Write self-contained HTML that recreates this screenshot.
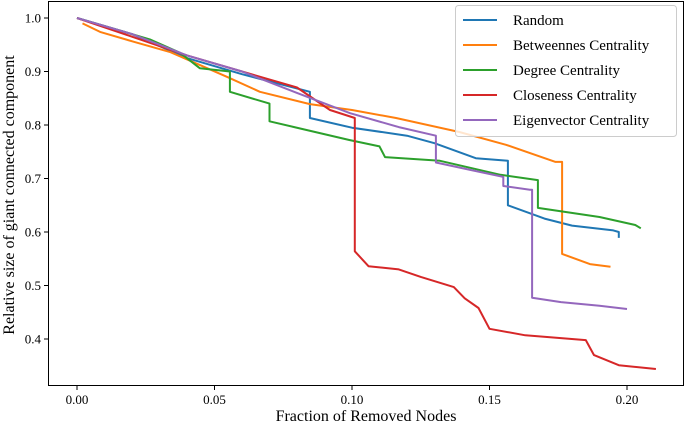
<!DOCTYPE html>
<html><head><meta charset="utf-8"><style>
html,body{margin:0;padding:0;background:#fff}
svg{display:block;font-family:"Liberation Serif",serif}
</style></head><body>
<svg id="c" width="685" height="428" xmlns="http://www.w3.org/2000/svg">
<rect x="48.5" y="1.5" width="635" height="384" fill="none" stroke="#000" stroke-width="1"/>
<g id="ticks"></g>
<g id="lines"></g>
<text x="366" y="421" text-anchor="middle" font-size="16">Fraction of Removed Nodes</text>
<text transform="translate(14,195) rotate(-90)" text-anchor="middle" font-size="16">Relative size of giant connected component</text>
<g id="legend">
<rect x="455.5" y="5.5" width="221" height="131" rx="3" fill="#fff" fill-opacity="0.8" stroke="#ccc"/>
</g>
</svg>
<script>
const xTicks=[0,0.05,0.1,0.15,0.2];
const xTickLabels=["0.00","0.05","0.10","0.15","0.20"];
const yTicks=[0.4,0.5,0.6,0.7,0.8,0.9,1.0];
const yTickLabels=["0.4","0.5","0.6","0.7","0.8","0.9","1.0"];
const seriesNames=["Random","Betweennes Centrality","Degree Centrality","Closeness Centrality","Eigenvector Centrality"];
const seriesColors=["#1f77b4","#ff7f0e","#2ca02c","#d62728","#9467bd"];
const randomData=[[0,1],[0.02,0.97],[0.04,0.925],[0.06,0.895],[0.075,0.875],[0.0847,0.862],[0.0847,0.813],[0.1,0.795],[0.12,0.78],[0.13,0.766],[0.145,0.738],[0.1567,0.733],[0.1567,0.65],[0.17,0.625],[0.18,0.612],[0.195,0.603],[0.197,0.6],[0.197,0.589]];
const betweennessData=[[0.002,0.99],[0.0084,0.974],[0.021,0.955],[0.034,0.936],[0.0545,0.89],[0.0665,0.862],[0.0847,0.839],[0.1,0.828],[0.116,0.813],[0.139,0.787],[0.156,0.763],[0.174,0.731],[0.1764,0.731],[0.1764,0.559],[0.1865,0.54],[0.194,0.535]];
const degreeData=[[0,1],[0.0265,0.96],[0.0375,0.935],[0.0447,0.906],[0.0556,0.9],[0.0556,0.862],[0.07,0.84],[0.07,0.807],[0.079,0.796],[0.099,0.772],[0.11,0.76],[0.112,0.74],[0.132,0.733],[0.154,0.707],[0.1676,0.697],[0.1676,0.645],[0.19,0.628],[0.203,0.613],[0.205,0.607]];
const closenessData=[[0,1],[0.02,0.965],[0.04,0.93],[0.06,0.9],[0.08,0.87],[0.092,0.828],[0.101,0.813],[0.101,0.564],[0.106,0.536],[0.117,0.53],[0.125,0.516],[0.137,0.497],[0.141,0.476],[0.146,0.458],[0.15,0.419],[0.163,0.407],[0.185,0.398],[0.188,0.37],[0.197,0.351],[0.2105,0.344]];
const eigenData=[[0,1],[0.02,0.97],[0.04,0.93],[0.06,0.9],[0.08,0.86],[0.0993,0.822],[0.117,0.796],[0.1305,0.78],[0.1305,0.73],[0.143,0.716],[0.155,0.703],[0.155,0.686],[0.1647,0.679],[0.1655,0.679],[0.1655,0.477],[0.176,0.469],[0.19,0.462],[0.2,0.456]];
const allSeries=[randomData,betweennessData,degreeData,closenessData,eigenData];
const seriesKeys=["random","betweenness","degree","closeness","eigenvector"];
const NS="http://www.w3.org/2000/svg";
function xs(v){return 77+v*2750;}
function ys(v){return 18+(1-v)*535;}
function mk(t,a,p){const e=document.createElementNS(NS,t);for(const k in a)e.setAttribute(k,a[k]);p.appendChild(e);return e;}
const tg=document.getElementById('ticks');
xTicks.forEach((v,i)=>{
 const l=mk('line',{x1:xs(v),x2:xs(v),y1:385.5,y2:390,stroke:'#000'},tg);
 
 
 const t=mk('text',{x:xs(v),y:404,'text-anchor':'middle','font-size':'13'},tg);
 t.textContent=xTickLabels[i];
 
 
});
yTicks.forEach((v,i)=>{
 const l=mk('line',{x1:44,x2:48.5,y1:ys(v),y2:ys(v),stroke:'#000'},tg);
 
 
 const t=mk('text',{x:41,y:ys(v)+4.5,'text-anchor':'end','font-size':'13'},tg);
 t.textContent=yTickLabels[i];
 
 
});
const lg=document.getElementById('lines');
allSeries.forEach((d,i)=>{
 const p=mk('polyline',{points:d.map(q=>xs(q[0]).toFixed(1)+','+ys(q[1]).toFixed(1)).join(' '),fill:'none',stroke:seriesColors[i],'stroke-width':'2','stroke-linejoin':'round'},lg);
 
 
});
const leg=document.getElementById('legend');
seriesNames.forEach((n,i)=>{
 const y=20+i*25;
 const l=mk('line',{x1:463,x2:497,y1:y,y2:y,stroke:seriesColors[i],'stroke-width':'2'},leg);
 
 
 const t=mk('text',{x:513,y:y+5,'font-size':'15'},leg);
 t.textContent=n;
 
 
});
</script>
</body></html>
